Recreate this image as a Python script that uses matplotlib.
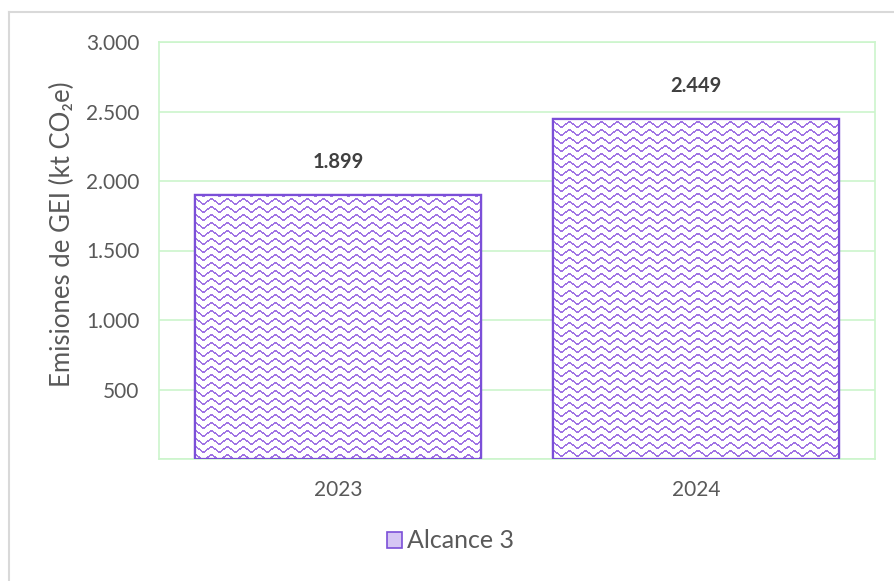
import numpy as np
import matplotlib
matplotlib.use("Agg")
import matplotlib.pyplot as plt
from matplotlib.patches import Patch, Rectangle
from matplotlib.lines import Line2D

categories = ["2023", "2024"]
values = [1899, 2449]
value_labels = ["1.899", "2.449"]
yticks = [500, 1000, 1500, 2000, 2500, 3000]
ytick_labels = ["500", "1.000", "1.500", "2.000", "2.500", "3.000"]
series_name = "Alcance 3"
ylabel = "Emisiones de GEI (kt CO₂e)"

plt.rcParams['font.family'] = ['Lato', 'DejaVu Sans']

W, H = 895, 581
fig = plt.figure(figsize=(W / 100, H / 100), dpi=100)
fig.patch.set_facecolor("white")

# outer chart border (left and top visible)
fig.add_artist(Line2D([8.5 / W, 8.5 / W], [0, 1 - 12 / H], color="#d9d9d9", lw=1.5))
fig.add_artist(Line2D([8.5 / W, 1], [1 - 12 / H, 1 - 12 / H], color="#d9d9d9", lw=1.5))

left, right, top, bottom = 159, 875, 42, 459
ax = fig.add_axes([left / W, 1 - bottom / H, (right - left) / W, (bottom - top) / H])

grid_color = "#ccf5cc"
text_color = "#595959"
pat_color = np.array([0xa0, 0x74, 0xe4]) / 255.0
edge_color = "#7b4fd8"

x = np.arange(len(categories))
ax.set_xlim(-0.5, len(categories) - 0.5)
ax.set_ylim(0, 3000)

for s in ["left", "right", "top", "bottom"]:
    ax.spines[s].set_color(grid_color)
    ax.spines[s].set_linewidth(1.2)
ax.set_yticks([0] + yticks)
ax.set_yticklabels([""] + ytick_labels, fontsize=15, color=text_color)
ax.set_xticks(x)
ax.set_xticklabels(categories, fontsize=15, color=text_color)
ax.tick_params(axis="both", length=0)
ax.tick_params(axis="y", pad=14)
ax.tick_params(axis="x", pad=15)
ax.grid(axis="y", color=grid_color, lw=1.2)
ax.set_axisbelow(True)

bars = ax.bar(x, values, width=0.8, facecolor="white", edgecolor=edge_color,
              linewidth=1.6, zorder=2)

fig.canvas.draw()
for b in bars:
    x0, y0 = b.get_x(), b.get_y()
    x1, y1 = x0 + b.get_width(), y0 + b.get_height()
    (px0, py0), (px1, py1) = ax.transData.transform([(x0, y0), (x1, y1)])
    w = int(round(px1 - px0))
    h = int(round(py1 - py0))
    cols = np.arange(w)
    rows = np.arange(h)
    tri = np.abs((cols % 16) - 8)
    shift = np.clip((tri * 3) // 4, 0, 5)
    mask = ((rows[:, None] + shift[None, :]) % 8) < 2
    img = np.ones((h, w, 4))
    img[mask, :3] = pat_color
    im = ax.imshow(img, extent=(x0, x1, y0, y1), origin="upper",
                   interpolation="nearest", aspect="auto", zorder=2.5)
    im.set_clip_path(b)
    ax.add_patch(Rectangle((x0, y0), x1 - x0, y1 - y0, facecolor="none",
                           edgecolor=edge_color, linewidth=1.6, zorder=3))

ax.set_xlim(-0.5, len(categories) - 0.5)
ax.set_ylim(0, 3000)

for xi, v, lab in zip(x, values, value_labels):
    ax.annotate(lab, (xi, v), xytext=(0, 33), textcoords="offset pixels",
                ha="center", va="center", fontsize=14.5, fontweight="bold",
                color="#404040")

fig.text(62 / W, 1 - 234 / H, ylabel, rotation=90, ha="center", va="center",
         fontsize=18.5, color=text_color)

handle = Patch(facecolor="#d6c6f4", edgecolor=edge_color, linewidth=1.2)
fig.legend([handle], [series_name], loc="center",
           bbox_to_anchor=(451 / W, 1 - 541 / H), frameon=False,
           fontsize=18, labelcolor=text_color, handlelength=0.6,
           handleheight=0.6, handletextpad=0.2)

fig.savefig("out.png", dpi=100, facecolor="white")
